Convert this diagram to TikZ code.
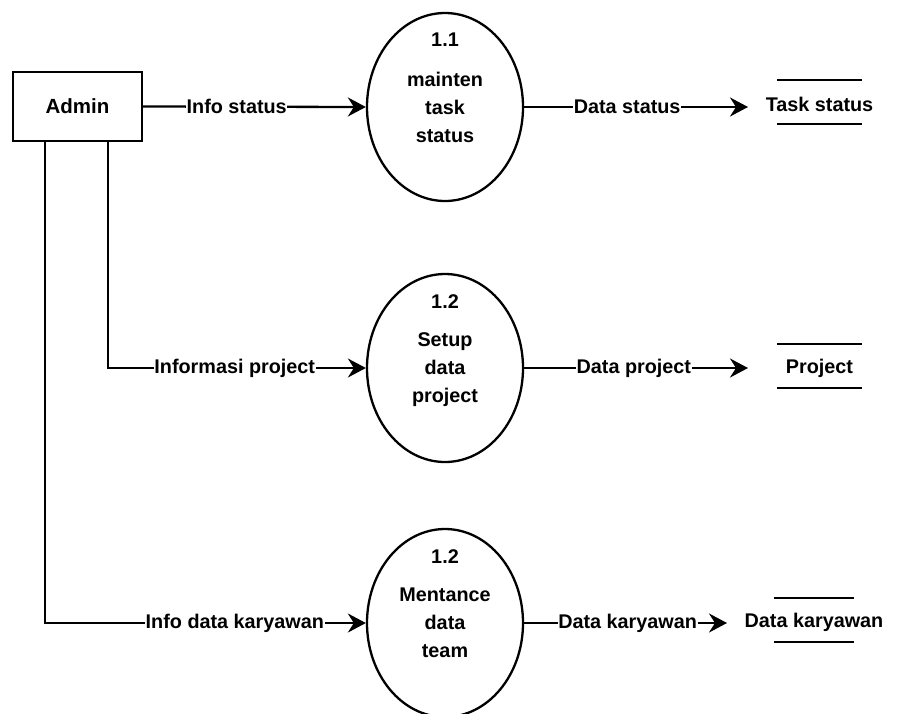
\documentclass[tikz,border=0pt]{standalone}
\usepackage{fontspec}
\setmainfont{Liberation Sans}
\usetikzlibrary{shapes.geometric,arrows.meta,calc}
\begin{document}
\begin{tikzpicture}[x=1pt,y=-1pt,
  every node/.style={font=\fontsize{19.8}{28}\selectfont\bfseries},
  entity/.style={draw,line width=2.4pt,minimum width=129pt,minimum height=69pt,inner sep=0pt},
  proc/.style={draw,ellipse,line width=2.3pt,minimum width=156pt,minimum height=188pt,inner sep=0pt},
  ptext/.style={align=center,inner sep=0pt},
  store/.style={minimum width=85pt,minimum height=44pt,inner sep=0pt},
  flow/.style={line width=2.3pt,-{Stealth[length=18pt,width=19pt,inset=6pt]}},
  lbl/.style={fill=white,inner sep=0.6pt}
]
\useasboundingbox (0,0) rectangle (912,713);
\node[entity,font=\fontsize{20.5}{28}\selectfont\bfseries] (admin) at (77.5,106.5) {Admin};

\node[proc] (e1) at (445,107) {};
\node[ptext] (n1) at (445,40) {1.1};
\node[ptext] (t1) at (445,107) {mainten\\task\\status};

\node[proc] (e2) at (445,368) {};
\node[ptext] (n2) at (445,302) {1.2};
\node[ptext] (t2) at (445,370) {Setup\\data\\project};

\node[proc] (e3) at (445,623) {};
\node[ptext] (n3) at (445,557) {1.2};
\node[ptext] (t3) at (445,623) {Mentance\\data\\team};

\node[store] (s1) at (819.5,104) {Task status};
\node[store] (s2) at (819.5,368) {Project};
\node[store] (s3) at (814,622) {Data karyawan};
\foreach \s/\w in {s1/42.5,s2/42.5,s3/40}{
  \draw[line width=1.6pt] ($(\s.center)+(-\w,-24)$) -- ($(\s.center)+(\w,-24)$);
  \draw[line width=1.6pt] ($(\s.center)+(-\w,20)$) -- ($(\s.center)+(\w,20)$);
}

\coordinate (a2) at ($(admin.south west)+(96,0)$);
\coordinate (a3) at ($(admin.south west)+(33,0)$);
\coordinate (d1) at (748,107);
\coordinate (d2) at (748,368);
\coordinate (d3) at (727,623);

\draw[flow] (admin.east) -- node[lbl,pos=0.42] {Info status} (e1.west);
\draw[flow] (a2) |- node[lbl,pos=0.746] {Informasi project} (e2.west);
\draw[flow] (a3) |- node[lbl,pos=0.796] {Info data karyawan} (e3.west);

\draw[flow] (e1.east) -- node[lbl,pos=0.46] {Data status} (d1);
\draw[flow] (e2.east) -- node[lbl,pos=0.49] {Data project} (d2);
\draw[flow] (e3.east) -- node[lbl,pos=0.51] {Data karyawan} (d3);
\end{tikzpicture}
\end{document}
